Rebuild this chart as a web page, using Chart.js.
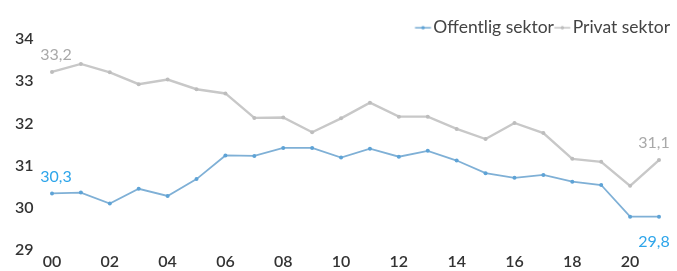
<!DOCTYPE html>
<html>
<head>
<meta charset="utf-8">
<script src="https://cdn.jsdelivr.net/npm/chart.js@4/dist/chart.umd.min.js"></script>
<style>
html,body{margin:0;padding:0;background:#fff;}
#wrap{width:677px;height:271px;position:relative;}
</style>
</head>
<body>
<div id="wrap"><canvas id="c" width="677" height="271"></canvas></div>
<script>
const years = ['00','01','02','03','04','05','06','07','08','09','10','11','12','13','14','15','16','17','18','19','20','21'];
const offentlig = [30.34,30.36,30.10,30.45,30.28,30.68,31.24,31.23,31.42,31.42,31.19,31.40,31.21,31.35,31.12,30.82,30.71,30.78,30.62,30.54,29.79,29.79];
const privat = [33.22,33.41,33.21,32.93,33.04,32.81,32.71,32.13,32.14,31.79,32.12,32.49,32.16,32.16,31.87,31.63,32.01,31.77,31.16,31.09,30.52,31.13];
const seriesNames = ['Offentlig sektor','Privat sektor'];
const yTicks = [29,30,31,32,33,34];
const endLabels = [
  {first:'30,3', last:'29,8'},
  {first:'33,2', last:'31,1'}
];

const blueLine = '#7fb0d6';
const bluePoint = '#5ea3d6';
const blueText = '#2ea5ea';
const grayLine = '#c8c8c8';
const grayPoint = '#bdbdbd';
const grayText = '#a9a9a9';

function markerImg(lineCol, dotCol){
  const cv = document.createElement('canvas');
  cv.width = 22; cv.height = 6;
  const g = cv.getContext('2d');
  g.strokeStyle = lineCol; g.lineWidth = 1.6;
  g.beginPath(); g.moveTo(3.4,3); g.lineTo(19.4,3); g.stroke();
  g.fillStyle = dotCol;
  g.beginPath(); g.arc(11.4,3,1.8,0,Math.PI*2); g.fill();
  return cv;
}
const mk = [markerImg(blueLine, bluePoint), markerImg(grayLine, grayPoint)];

const legendFit = {
  id:'legendFit',
  beforeLayout(chart){
    const lg = chart.legend;
    if (lg && !lg._patched){
      const f = lg.fit;
      lg.fit = function(){ f.call(this); this.height = 26; };
      lg._patched = true;
    }
  }
};

const labelPlugin = {
  id:'endLabels',
  afterDatasetsDraw(chart){
    const ctx = chart.ctx;
    ctx.save();
    ctx.font = '16px Lato';
    ctx.textAlign = 'center';
    ctx.textBaseline = 'middle';
    chart.data.datasets.forEach((ds, i) => {
      const pts = chart.getDatasetMeta(i).data;
      const first = pts[0], last = pts[pts.length-1];
      ctx.fillStyle = i === 0 ? blueText : grayText;
      ctx.fillText(endLabels[i].first, first.x + 4, first.y - 17);
      if (i === 0) ctx.fillText(endLabels[i].last, last.x - 5, last.y + 25);
      else ctx.fillText(endLabels[i].last, last.x - 5, last.y - 17);
    });
    ctx.restore();
  }
};

new Chart(document.getElementById('c'), {
  type:'line',
  data:{
    labels: years,
    datasets:[
      {label: seriesNames[0], data: offentlig, borderColor: blueLine, backgroundColor: bluePoint,
       pointBackgroundColor: bluePoint, pointBorderWidth:0, pointRadius:2, borderWidth:1.8, tension:0},
      {label: seriesNames[1], data: privat, borderColor: grayLine, backgroundColor: grayPoint,
       pointBackgroundColor: grayPoint, pointBorderWidth:0, pointRadius:2, borderWidth:2.4, tension:0}
    ]
  },
  options:{
    responsive:false,
    animation:false,
    layout:{padding:{left:15, right:1, top:13, bottom:0}},
    plugins:{
      tooltip:{enabled:false},
      legend:{
        position:'top', align:'end',
        labels:{
          usePointStyle:true, pointStyleWidth:4, padding:6,
          color:'#444', font:{family:'Lato', size:17.5},
          generateLabels(chart){
            return chart.data.datasets.map((d,i)=>({
              text: d.label, pointStyle: mk[i], fillStyle: d.borderColor,
              strokeStyle: d.borderColor, lineWidth:0, datasetIndex:i, hidden:false, fontColor:'#444'
            }));
          }
        }
      }
    },
    scales:{
      x:{
        offset:false,
        grid:{display:false, drawTicks:false},
        border:{display:false},
        afterFit:(s)=>{ s.height = 21; },
        ticks:{
          autoSkip:false, maxRotation:0, padding:2,
          color:'#333', font:{family:'Lato', size:16, weight:'600'},
          callback:(v,i)=> i%2===0 ? years[i] : ''
        }
      },
      y:{
        min:29, max:34,
        grid:{display:false, drawTicks:false},
        border:{display:false},
        afterFit:(s)=>{ s.width = 37; },
        afterBuildTicks:(s)=>{ s.ticks = yTicks.map(v=>({value:v})); },
        ticks:{
          padding:2, crossAlign:'far', color:'#333', font:{family:'Lato', size:16, weight:'600'}
        }
      },
      y2:{
        position:'right', display:true,
        grid:{display:false, drawTicks:false},
        border:{display:false},
        ticks:{display:false},
        afterFit:(s)=>{ s.width = 17; }
      }
    }
  },
  plugins:[legendFit, labelPlugin]
});
</script>
</body>
</html>
